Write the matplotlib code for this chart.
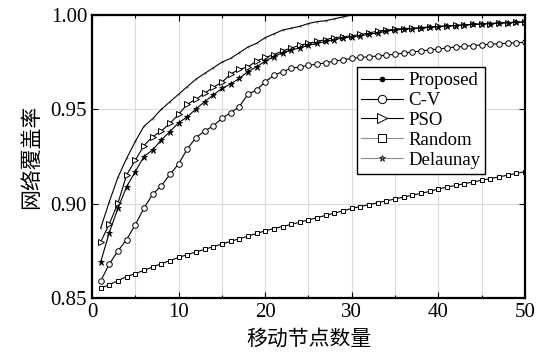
import matplotlib.pyplot as plt
from matplotlib.ticker import MultipleLocator

plt.rcParams['font.family'] = ['Liberation Serif', 'DejaVu Serif']

x = list(range(1, 51))

proposed = [0.887, 0.901, 0.914, 0.924, 0.933, 0.941, 0.945, 0.950, 0.954, 0.958,
            0.962, 0.966, 0.969, 0.972, 0.975, 0.977, 0.980, 0.983, 0.985, 0.988,
            0.990, 0.992, 0.993, 0.994, 0.9955, 0.9965, 0.997, 0.998, 0.999, 1.000,
            1.001, 1.0015, 1.002, 1.0025, 1.003, 1.0035, 1.004, 1.0045, 1.005, 1.0055,
            1.006, 1.0063, 1.0066, 1.007, 1.0073, 1.0076, 1.0078, 1.008, 1.0082, 1.0085]

cv = [0.859, 0.868, 0.875, 0.881, 0.8888, 0.8976, 0.905, 0.9094, 0.9155, 0.921,
      0.929, 0.935, 0.9385, 0.9412, 0.9452, 0.9482, 0.9514, 0.958, 0.9602, 0.9646,
      0.968, 0.970, 0.9717, 0.9725, 0.9733, 0.974, 0.9747, 0.9755, 0.9763, 0.977,
      0.9775, 0.9779, 0.9783, 0.9787, 0.9792, 0.9798, 0.9804, 0.9810, 0.9815, 0.9820,
      0.9825, 0.9830, 0.9834, 0.9838, 0.9842, 0.9845, 0.9848, 0.9850, 0.9853, 0.9855]

pso = [0.8796, 0.8893, 0.9003, 0.9152, 0.923, 0.9308, 0.9355, 0.9385, 0.9426, 0.9473,
       0.9527, 0.9553, 0.9585, 0.9617, 0.9643, 0.9687, 0.9712, 0.9725, 0.9756, 0.9775,
       0.979, 0.981, 0.9825, 0.984, 0.985, 0.986, 0.987, 0.988, 0.9885, 0.989,
       0.9897, 0.9905, 0.9915, 0.992, 0.9925, 0.9928, 0.993, 0.9933, 0.9937, 0.994,
       0.9943, 0.9945, 0.9947, 0.995, 0.9953, 0.9955, 0.9957, 0.996, 0.9962, 0.9963]

random_ = [0.8553, 0.857, 0.8592, 0.8614, 0.8629, 0.8647, 0.8664, 0.8682, 0.8698, 0.8715,
           0.8730, 0.8744, 0.8758, 0.8772, 0.8786, 0.8800, 0.8814, 0.8828, 0.8842, 0.8856,
           0.8868, 0.8879, 0.8890, 0.8902, 0.8914, 0.8926, 0.8938, 0.8950, 0.8962, 0.8975,
           0.8985, 0.8995, 0.9005, 0.9015, 0.9025, 0.9035, 0.9045, 0.9055, 0.9065, 0.9078,
           0.9088, 0.9097, 0.9106, 0.9115, 0.9124, 0.9133, 0.9142, 0.9151, 0.9160, 0.917]

delaunay = [0.869, 0.8847, 0.8976, 0.909, 0.917, 0.925, 0.9285, 0.9338, 0.9382, 0.9429,
            0.946, 0.9502, 0.954, 0.9576, 0.9611, 0.9634, 0.9664, 0.970, 0.9725, 0.9755,
            0.978, 0.980, 0.9815, 0.9825, 0.984, 0.985, 0.986, 0.987, 0.9878, 0.9885,
            0.989, 0.9898, 0.9905, 0.9915, 0.992, 0.9925, 0.9928, 0.993, 0.9935, 0.9938,
            0.9941, 0.9944, 0.9947, 0.995, 0.9952, 0.9955, 0.9957, 0.9959, 0.9961, 0.9963]

fig = plt.figure(figsize=(5.36, 3.6), dpi=100)
ax = fig.add_axes([0.1716, 0.1722, 0.8079, 0.7861])

lw = 0.8
ax.plot(x, proposed, '-', color='k', lw=lw, marker='.', ms=0.5, label='Proposed')
ax.plot(x, cv, '-', color='k', lw=lw, marker='o', ms=4, mfc='white', mew=0.7, label='C-V')
ax.plot(x, pso, '-', color='k', lw=lw, marker='>', ms=4.5, mfc='white', mew=0.7, label='PSO')
ax.plot(x, random_, '-', color='k', lw=lw, marker='s', ms=3, mfc='white', mew=0.7, label='Random')
ax.plot(x, delaunay, '-', color='k', lw=lw, marker='*', ms=4.5, mew=0.5, label='Delaunay')

ax.set_xlim(0, 50)
ax.set_ylim(0.85, 1.00)
ax.xaxis.set_major_locator(MultipleLocator(10))
ax.xaxis.set_minor_locator(MultipleLocator(5))
ax.yaxis.set_major_locator(MultipleLocator(0.05))
ax.yaxis.set_major_formatter(plt.FormatStrFormatter('%.2f'))
ax.grid(True, which='both', axis='x', color='#dcdcdc', lw=0.8)
ax.grid(True, which='major', axis='y', color='#dcdcdc', lw=0.8)
ax.set_axisbelow(True)
ax.tick_params(which='both', direction='in', top=True, right=True, labelsize=15, width=0.8)
ax.tick_params(which='major', length=4)
ax.tick_params(which='minor', length=2.5)
for s in ax.spines.values():
    s.set_linewidth(1.6)

ax.set_xlabel('移动节点数量', family=['Noto Sans CJK SC'], fontsize=15, labelpad=4)
ax.set_ylabel('网络覆盖率', family=['Noto Sans CJK SC'], fontsize=15, labelpad=6)

leg = ax.legend(loc='upper left', bbox_to_anchor=(0.6115, 0.815), fontsize=13.5,
                frameon=True, fancybox=False, edgecolor='k', framealpha=1,
                handlelength=2.2, handletextpad=0.3, labelspacing=0.15,
                borderpad=0.25, borderaxespad=0)
leg.get_frame().set_linewidth(1.0)
hs = leg.legend_handles
hs[0].set_markersize(6)
hs[1].set_markersize(6)
hs[2].set_markersize(6.5)
hs[3].set_markersize(6)
hs[3].set_color('#8c8c8c')
hs[3].set_markeredgecolor('k')
hs[4].set_color('#8c8c8c')
hs[4].set_markeredgecolor('k')
hs[4].set_markersize(5)

fig.savefig('out.png', dpi=100)
